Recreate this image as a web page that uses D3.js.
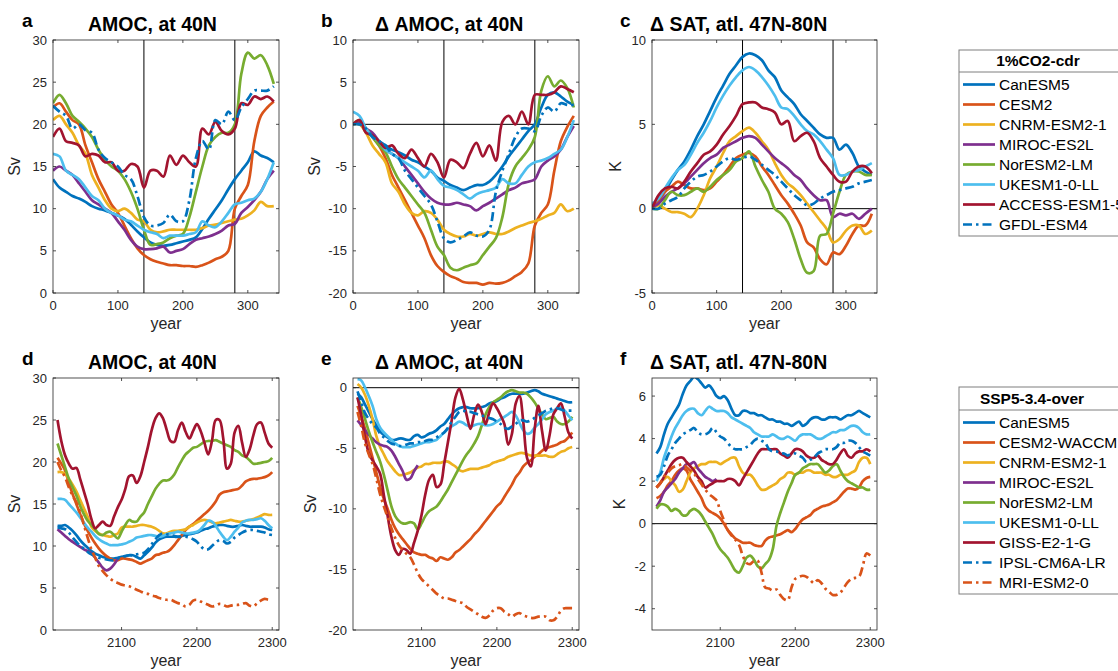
<!DOCTYPE html>
<html>
<head>
<meta charset="utf-8">
<script src="https://cdn.jsdelivr.net/npm/d3@7"></script>
<style>
  body { margin: 0; background: #fff; }
  svg { font-family: "Liberation Sans", Arial, Helvetica, sans-serif; }
</style>
</head>
<body>
<svg id="chart" width="1118" height="671"></svg>
<script>
// ---- data: 1%CO2-cdr runs (year since start) ----
var yearsCdr = [0,10,20,30,40,50,60,70,80,90,100,110,120,130,140,150,160,170,180,190,200,210,220,230,240,250,260,270,280,290,300,310,320,330,340];

// model order: CanESM5, CESM2, CNRM-ESM2-1, MIROC-ES2L, NorESM2-LM, UKESM1-0-LL, ACCESS-ESM1-5, GFDL-ESM4
var amocCdr = [
  [13.5,12.5,12,11.5,11.2,10.8,10.3,10,9.8,9.5,9.2,8.8,8.1,7.3,6.6,6,5.7,5.6,5.7,5.9,6.1,6.3,6.6,7.6,8.8,9.9,11,12.3,13.5,14.5,15.5,16.8,16.3,16,15.5],
  [22,22.5,21.5,20.5,20,17.5,15.5,13.5,12,10.5,9.5,8,6.5,5.3,4.5,4,3.7,3.5,3.3,3.3,3.2,3.2,3.1,3.3,3.6,4,4.3,5,10,11.5,12.8,18,21,22,22.7],
  [20.5,21,20,19,17.5,16.5,14,12.5,11,10,9.7,10,9.5,8.7,8.5,7.5,7.2,7.3,7.5,7.5,7.5,7.5,7.5,7.7,8,8.1,8.3,8.5,8.7,8.8,9.2,9.8,10.8,10.3,10.3],
  [14.5,15,14.5,14,13,12,11,10.5,10,9.5,8.5,7.5,6.3,5.5,5.2,5.2,5.3,5.5,4.8,5,5.2,5.8,6.3,6.5,6.7,7,7.4,8,8.2,9.5,10.2,11,12,13.5,14.5],
  [22.5,23.5,22.5,21,20.3,19.5,18.5,17,15.8,15,14.5,13.5,12,10,7.5,5.7,5.8,6,6.5,6.8,7,9,12,15,17.5,18.5,19,19,20,26,28.5,27.8,28.2,27,24.8],
  [16.5,16.2,14.5,14,13.5,12.5,11.5,11,10,9.5,9.2,8.7,8.5,8,7.5,7.2,7,6.5,6.8,6.8,6.8,7,7.2,8.5,8,7.8,8.5,9.5,10.5,10.7,11,11.2,12,13.5,15.5],
  [18.5,19.5,18,17.8,17.5,16.2,16.5,16.3,15.5,15.5,14.5,14.5,15.3,15,12.5,14.5,14.5,13.8,16.3,15.2,16.3,15.5,15,19.5,18.8,20.3,19.2,18.8,19.5,22.5,22.3,23.3,23,23.3,22.7],
  [22.2,21.5,21,19.5,20,19.3,19,17,16,15.5,15,14,13.5,11.5,9,8,8,8.3,9.3,8.5,8.5,11,16,18,17,20.5,20,21.5,20.5,22,23,24,24,24,24.5]
];

var dAmocCdr = [
  [0,0,-0.5,-1.5,-2,-2.5,-3,-3.3,-3.7,-4.2,-4.5,-5,-5.5,-6.3,-6.7,-7.2,-7.5,-7.8,-7.5,-7.2,-7.2,-6.8,-6,-5,-3.8,-2.8,-1.8,-0.8,0,2,3.5,3.8,3.3,2.7,2.3],
  [0,0.3,-0.5,-1.5,-2.5,-4,-6,-7.5,-9,-10.5,-12,-13.5,-15.5,-16.8,-17.5,-18,-18.3,-18.7,-18.8,-18.8,-19,-18.8,-18.9,-18.8,-18.5,-18,-17.5,-16.5,-12,-10.5,-9.5,-5.5,-2,-0.3,1],
  [0,0,-1,-2.5,-3.5,-4.5,-7,-8,-9.5,-10.5,-10.8,-10.3,-10.5,-11.3,-12.5,-13,-13.3,-13.3,-13,-13.2,-13,-12.8,-13,-13,-12.7,-12.3,-12,-11.7,-11.5,-11.2,-10.8,-10.5,-9.5,-10.3,-10],
  [0,0.3,-0.5,-1,-2,-3,-3.5,-4,-5,-6,-7,-8,-8.8,-9.3,-9.5,-9.5,-9.3,-9.5,-9.7,-10.2,-9.7,-9.3,-8.8,-8.3,-7.8,-7.5,-7,-6.8,-6.5,-5,-4.3,-3.8,-3,-1.5,-0.2],
  [0,0.5,-0.5,-1.5,-2.5,-3.3,-5,-6.5,-7.5,-8.5,-9.5,-10.5,-12.5,-14.5,-15.5,-17,-17.3,-17,-16.7,-16.5,-15.5,-14.5,-13.5,-11,-7,-5,-4,-3,-1.5,4,5.7,4.5,5.2,4.3,2],
  [1.5,1,-0.5,-1.5,-2,-3,-3.5,-4,-4.5,-5,-5.5,-6.3,-5.5,-6.5,-7.3,-7.5,-7.8,-8.3,-8.8,-8.3,-8,-7.8,-7.5,-6.5,-7,-7,-6,-5,-4.5,-4.3,-4,-3.5,-3,-1.5,0.5],
  [0,0.5,-1,-1.3,-2,-2.8,-2.5,-3.5,-4,-3,-4,-5,-3.5,-4.5,-6.3,-4.2,-4.5,-5.2,-3.5,-2.2,-3.8,-2.5,-4.3,0.3,1,0,1.5,0,3.5,3.5,3.5,3.8,4.5,4.2,3.8],
  [0,0,-0.5,-1.5,-2,-2.5,-3.5,-4,-5.5,-6.5,-7.5,-8.5,-9.5,-11.5,-13.5,-14,-13.7,-13.3,-12.8,-13.2,-13.3,-12.5,-8,-5.5,-3.5,-1.5,-0.5,-0.5,-0.8,1,2,1.5,2.5,2.3,2.3]
];

var dSatCdr = [
  [0.2,0.5,1,1.7,2.3,2.8,3.5,4.3,5,5.8,6.6,7.3,8,8.5,9,9.2,9.1,8.8,8.2,7.8,7,6.6,6.2,5.6,5.2,4.8,4.4,4.2,4.2,3.5,3.8,3.3,2.5,2.2,2],
  [0.1,0.5,1,1.3,1.6,1.4,1.2,1.2,1.1,1.2,1.6,2,2.5,3,3.2,3.3,3.1,2.5,2,1.4,0.8,0.3,-0.3,-1,-2,-2.3,-3,-3.3,-2.6,-2.7,-2.2,-1.5,-1,-1,-0.3],
  [0,0.2,0,-0.2,-0.2,-0.3,-0.5,0,0.8,1.8,2.5,3.3,4,4.3,4.6,4.8,4.5,4,3.5,2.7,2,1.5,1.2,0.8,0.3,-0.2,-0.7,-1.2,-2,-1.8,-1.3,-1,-1,-1.5,-1.3],
  [0.1,0.3,0.7,1,1.2,1.5,1.9,2.3,2.7,3,3.2,3.6,3.8,4,4.2,4.3,4.2,3.8,3.4,3,2.7,2.4,2,1.7,1.2,0.8,0.5,0.5,-0.5,-0.3,-0.4,-0.3,-0.6,-0.3,0],
  [0,0,0.5,1,0.8,0.8,1,1.2,1,1.3,1.7,2,2.3,2.8,3,3.4,2.5,1.7,1,0,-0.3,-0.8,-1.8,-3,-3.8,-3.7,-1.6,-1.5,-0.3,1,2,2.2,2.2,2,2],
  [0.3,0.6,1.2,1.8,2.3,2.6,3.2,3.9,4.5,5.2,6,6.7,7.3,7.8,8.2,8.4,8.2,7.8,7.3,6.7,6,5.9,5.5,5,4.6,4.4,4,3.5,3,2,2,2.2,2.3,2.5,2.7],
  [0,0.8,1.2,1.3,1.2,1.6,2.2,2.7,3.2,3.4,3.8,4.4,4.9,5.5,6.2,6.3,6.3,6,5.9,5.7,5,5.2,4,4.3,4.5,4,3,2.5,2,1.6,1.6,2.2,2.5,2.5,2.1],
  [0,0,0.3,0.5,0.7,1.2,1.6,1.9,2,2.2,2.5,2.8,3,2.9,3,3.1,2.9,2.6,2.3,2,1.6,1.2,0.8,0.5,0.2,0.3,0.6,0.8,1,1.1,1.2,1.3,1.5,1.6,1.7]
];

// ---- data: SSP5-3.4-over runs ----
var yearsSsp = [2015,2020,2025,2030,2035,2040,2045,2050,2055,2060,2065,2070,2075,2080,2085,2090,2095,2100,2105,2110,2115,2120,2125,2130,2135,2140,2145,2150,2155,2160,2165,2170,2175,2180,2185,2190,2195,2200,2205,2210,2215,2220,2225,2230,2235,2240,2245,2250,2255,2260,2265,2270,2275,2280,2285,2290,2295,2300];

// model order: CanESM5, CESM2-WACCM, CNRM-ESM2-1, MIROC-ES2L, NorESM2-LM, UKESM1-0-LL, GISS-E2-1-G, IPSL-CM6A-LR, MRI-ESM2-0
var amocSsp = [
  [12.4,12.4,12.5,12.2,11.8,11.3,10.7,10.2,9.8,9.4, 9.1,8.9,8.7,8.6,8.5,8.5,8.6,8.7,8.8,8.9, 8.9,8.7,8.5,8.9,9.3,9.8,10.4,10.8,11,11.1, 11.1,11.1,11.1,11.2,11.3,11.4,11.5,11.6,11.8,12, 12.1,12.3,12.4,12.5,12.5,12.4,12.3,12.3,12.4,12.5, 12.4,12.3,12.3,12.3,12.3,12.2,12,11.9],
  [20.5,19.8,19,17.5,16.2,15,13.8,12.7,11.8,11, 10.3,9.7,9.2,8.8,8.5,8.3,8.3,8.5,8.5,8.4, 8.3,8.1,7.9,8.1,8.3,8.5,8.9,9,9.2,9.3, 9.6,10.1,10.7,11.3,11.9,12.3,12.6,13,13.4,13.8, 14.2,14.7,15.3,16.1,16.4,16.5,16.6,16.7,16.8,17.2, 17.7,17.9,18,18,18.1,18.2,18.4,18.8],
  [18.8,18.8,18.6,18,17.3,16.5,15.5,14.5,13.5,12.3, 11.8,11.5,11.3,11.2,11.1,11.3,11.5,12.2,12.3,12.3, 12.3,12.4,12.5,12.5,12.4,12.3,12.1,11.8,11.5,11.5, 11.7,11.8,11.8,11.9,12,12.3,12.5,12.8,13,13.1, 13,12.8,12.7,12.8,12.9,13,13.1,13,12.9,12.9, 13,13.1,13.2,13.4,13.6,13.8,13.7,13.7],
  [12,11.6,11.2,10.8,10.5,10.2,9.9,9.6,9.4,9.1, 8.6,8,7.4,7.1,7.3,7.8,8.5],
  [22.2,20.8,19.4,18,17,16,14.8,13.8,13,12.5, 12,11.4,11.3,11.6,11.7,11.3,10.9,11.7,12.5,13.1, 12.9,12.9,13.5,14,15,15.9,16.8,17.4,17.8,17.8, 18,18.5,19.4,20.2,20.9,21.3,21.7,21.8,22.1,22.4, 22.5,22.5,22.6,22.4,22.2,22,21.8,21.4,21.2,20.8, 20.6,20.2,19.8,19.8,19.9,20,20.1,20.5],
  [15.6,15.6,15.5,15,14.5,14,13.4,12.8,12.2,11.7, 11.2,10.8,10.5,10.3,10.1,10.1,10.1,10.2,10.3,10.5, 10.7,11,11.1,11.2,11.3,11.3,11.2,11.1,11.2,11.4, 11.5,11.6,11.7,11.6,11.5,11.5,11.6,11.7,12,12.5, 13,12.9,12.4,11.7,11.1,10.7,11.1,11.7,12.2,12.8, 13,13.1,13.1,13.2,13.3,13,12.5,12.1],
  [25,22.5,20.8,19.8,19.2,19.3,18,16.5,15,13.2, 12.1,12.5,12.9,12.5,12.4,13.5,14.6,15.5,16.8,18.3, 18.4,17.5,18.3,20,21.8,23.8,25.2,25.8,25.2,23.8, 22.5,22.4,23.8,24.7,23.6,22.8,23.7,24.5,23.7,22.3, 20.9,22.5,25,25,22.8,19.2,19.8,23.5,24.3,22.3, 20.6,21.5,23.2,24.5,24.7,23.5,22.2,21.7],
  [12.2,12.1,12,11.6,11,10.5,10,9.7,9.3,9, 8.8,8.6,8.5,8.4,8.3,8.3,8.5,8.7,8.8,8.9, 8.9,9,9.1,9.2,9.6,10.2,10.8,11.3,11.5,11.4, 11.3,11.2,11.1,11.1,11.1,11,10.8,10.5,10,9.6, 9.6,10,10.4,10.7,10.6,10.3,10.5,11,11.3,11.6, 11.8,11.9,11.9,11.8,11.7,11.6,11.4,11.3],
  [20,19,18.2,17,16,15.2,14,12.5,11,9.6, 8.6,7.6,7,6.5,6.1,5.8,5.6,5.4,5.3,5.2, 5,4.8,4.6,4.4,4.3,4.1,4,3.8,3.7,3.6, 3.6,3.4,3.2,3.1,2.8,3,3.5,3.6,3.4,3.2, 3,2.8,2.9,3.1,3,2.8,2.9,3,3,3.1, 3.2,2.9,2.8,3.2,3.5,3.7,3.6,3.6]
];

var dAmocSsp = [
  [-0.5,-0.8,-1.4,-2,-2.6,-3.1,-3.6,-3.9,-4.1,-4.3, -4.3,-4.2,-4.2,-4.3,-4.3,-4,-3.9,-4.1,-4,-3.8, -3.7,-3.5,-3.2,-3,-2.6,-2.2,-1.9,-1.7,-1.6,-1.6, -1.7,-1.7,-1.7,-1.6,-1.5,-1.3,-1.2,-1.1,-0.9,-0.8, -0.6,-0.5,-0.5,-0.5,-0.5,-0.4,-0.3,-0.2,-0.3,-0.5, -0.6,-0.7,-0.8,-0.9,-1,-1.1,-1.2,-1.2],
  [-1.5,-2.4,-3.4,-4.6,-5.8,-7,-8.2,-9.2,-10,-10.9, -11.6,-12.1,-12.5,-12.9,-13.3,-13.6,-13.7,-13.8,-13.8,-14, -14.1,-14.3,-14,-14.1,-14.2,-14,-13.6,-13.4,-13.1,-12.8, -12.5,-12.1,-11.8,-11.4,-11,-10.6,-10.2,-9.8,-9.5,-9, -8.5,-8,-7.4,-7,-6.5,-6.2,-6,-5.7,-5.5,-5.2, -5,-4.9,-4.8,-4.7,-4.5,-4.4,-4.1,-3.7],
  [0.3,0,-0.6,-1.5,-2.6,-4,-4.9,-5.5,-6.1,-6.5, -6.9,-7.2,-7.2,-7.1,-7,-6.8,-6.6,-6.5,-6.3,-6.3, -6.2,-6.2,-6.2,-6.1,-6.1,-6.3,-6.5,-6.8,-6.9,-6.8, -6.7,-6.7,-6.7,-6.6,-6.5,-6.4,-6.2,-6.1,-6,-5.9, -5.7,-5.6,-5.5,-5.4,-5.4,-5.5,-5.6,-5.6,-5.6,-5.6, -5.6,-5.7,-5.7,-5.5,-5.3,-5.2,-5,-4.9],
  [-2.7,-3.1,-3.5,-3.9,-4.2,-4.5,-4.7,-4.8,-4.9,-5.2, -5.7,-6.3,-6.9,-7.6,-7.5,-6.9,-6.4],
  [-0.8,-1.6,-2.6,-3.6,-4.5,-5.3,-6.1,-7.2,-8.5,-9.8, -10.6,-11,-11.2,-11.2,-11.1,-11.2,-11.7,-11.2,-10.6,-10.2, -10,-9.8,-9.4,-8.9,-8.4,-7.8,-7.2,-6.6,-6,-5.5, -5.1,-4.6,-4,-3.1,-2.2,-1.6,-1.2,-1,-0.8,-0.5, -0.3,-0.2,-0.3,-0.4,-0.4,-0.5,-0.8,-1.2,-1.7,-2.2, -2.6,-2.5,-2.4,-2.8,-3,-3,-2.8,-2.4],
  [0.7,0.6,0,-0.7,-1.5,-2.6,-3.3,-3.7,-4,-4.3, -4.6,-4.8,-4.9,-4.9,-4.9,-4.8,-4.7,-4.6,-4.5,-4.5, -4.4,-4.3,-4,-3.7,-3.4,-3.2,-3,-2.8,-2.9,-3.1, -3.2,-3.1,-3,-3,-3.1,-3.1,-3,-2.8,-2.6,-2.4, -2.2,-2,-2.3,-2.9,-3.5,-3.8,-3.7,-3.3,-3,-2.6, -2.2,-2,-1.9,-1.7,-1.6,-1.9,-2.3,-2.7],
  [-0.8,-2.3,-4.1,-5.4,-6,-6.5,-7.1,-8.9,-10.6,-12.3, -13.4,-13.8,-13.3,-13.4,-13.7,-12.8,-11.8,-10.5,-8.8,-7.6, -7.2,-8.2,-8,-6.3,-4.5,-2.7,-0.8,-0.1,-1,-2.3, -3.4,-2.2,-1.4,-2,-3,-2,-1.3,-1.7,-2.3,-3, -4.7,-3.8,-1.3,-0.7,-2.8,-5.8,-6.5,-3.5,-1.5,-3.6, -5.2,-3.9,-2.2,-1.7,-1.3,-2.4,-3.7,-4.2],
  [-0.3,-1.2,-2.1,-2.6,-3,-3.3,-3.8,-4.1,-4.4,-4.6, -4.7,-4.8,-4.8,-4.7,-4.6,-4.6,-4.5,-4.5,-4.4,-4.3, -4.3,-4.1,-3.9,-3.7,-3.3,-2.8,-2.4,-2,-1.9,-2, -2,-2.1,-2.2,-2.3,-2.4,-2.5,-2.6,-2.8,-3,-3.3, -3.4,-3.2,-3,-2.7,-2.7,-2.8,-2.7,-2.5,-2.3,-2.1, -1.9,-1.8,-1.7,-1.7,-1.8,-1.9,-1.9,-1.9],
  [-2,-3.2,-4.6,-5.5,-6.3,-7.5,-8.8,-9.8,-10.7,-11.6, -12.4,-13,-13.4,-13.7,-14,-14.6,-15.3,-15.8,-16.1,-16.4, -16.7,-17,-17.2,-17.4,-17.4,-17.5,-17.6,-17.7,-17.8,-18.1, -18.3,-18.5,-18.7,-18.9,-19,-18.8,-18.4,-18.2,-18.2,-18.5, -18.7,-18.9,-18.7,-18.6,-18.8,-18.9,-19,-19,-18.9,-18.9, -18.9,-19.2,-19.2,-18.9,-18.4,-18.2,-18.2,-18.2]
];

var dSatSsp = [
  [3.3,3.6,4.2,4.7,5,5.3,5.6,6.1,6.5,6.7, 6.9,6.8,6.6,6.4,6.5,6.3,6,5.9,6,5.8, 5.4,5.1,5.1,5.3,5.3,5.2,5.2,5.1,5.1,5, 4.9,4.9,4.8,4.8,4.7,4.7,4.6,4.7,4.8,4.6, 4.7,4.9,5,5,4.9,4.9,5,5,5,4.9, 5,5.1,5.1,5.2,5.3,5.2,5.1,5],
  [1.2,1.3,1.5,1.8,2,2.3,2.5,2.6,2.5,2.1, 1.8,1.5,1.2,0.8,0.6,0.5,0.4,0.25,0,-0.3, -0.5,-0.7,-0.8,-0.9,-0.9,-0.9,-1,-1.05,-1.05,-0.8, -0.65,-0.6,-0.55,-0.5,-0.4,-0.3,-0.4,-0.25,0,0.2, 0.3,0.4,0.6,0.7,0.8,0.85,0.9,1,1.1,1.3, 1.5,1.65,1.65,1.6,1.7,2,2.15,2.2],
  [1.7,1.9,2.1,2.2,2,1.8,1.5,1.6,2,2.4, 2.6,2.7,2.8,2.8,2.9,2.9,2.9,2.8,2.9,3, 3.1,3.1,2.7,2.4,2.3,2.3,2.1,1.8,1.6,1.6, 1.7,1.8,1.9,2.1,2.2,2.4,2.4,2.3,2.4,2.4, 2.5,2.5,2.4,2.4,2.4,2.3,2.3,2.2,2.2,2.3, 2.3,2.3,2.4,2.5,2.9,3.1,3.1,2.8],
  [0.8,1.1,1.5,1.7,1.9,2.1,2.4,2.6,2.8,2.8, 2.9,2.6,2.4,2.2,2.1,2,2.1],
  [0.7,0.9,0.9,0.8,0.6,0.7,0.6,0.4,0.4,0.6, 0.7,0.6,0.4,0.1,-0.2,-0.5,-0.9,-1.2,-1.4,-1.6, -1.9,-2.2,-2.3,-2,-1.6,-1.5,-1.7,-2,-2.1,-1.9, -1.7,-1.2,-0.1,0.5,1,1.5,1.9,2.3,2.4,2.6, 2.7,2.8,2.8,2.8,2.6,2.4,2.5,2.7,2.8,2.5, 2.2,2,1.9,1.8,1.7,1.7,1.6,1.6],
  [2,2.4,3.1,3.6,4.1,4.5,4.8,5.1,5.3,5.4, 5.4,5.2,5.1,5.3,5.5,5.4,5.3,5.3,5.3,5.2, 5,4.9,4.8,4.7,4.6,4.5,4.3,4.2,4.1,4.1, 4.1,4.2,4.1,4,4,4.1,4,3.9,4.1,4.2, 4.2,4.2,4.1,4,4,4.1,4.2,4.3,4.3,4.4, 4.4,4.5,4.6,4.6,4.5,4.3,4.2,4.2],
  [1.7,1.9,2.2,2.5,2.8,3,3.1,3.1,2.9,2.7, 2.5,2.2,2,1.7,1.8,1.9,2,2,2,2.1, 2.1,2,1.8,2.1,2.4,2.7,3,3.3,3.5,3.5, 3.5,3.5,3.5,3.3,3.2,3.1,3.3,3.5,3.5,3.4, 3.2,3.1,3.1,3.2,3,2.9,2.8,2.8,3,3.3, 3.5,3.2,3.1,3.3,3.4,3.4,3.5,3.4],
  [2.2,2.3,2.7,3.2,3.5,3.8,4,4.2,4.3,4.4, 4.5,4.3,4.2,4.2,4.3,4.5,4.3,4.1,4,3.8, 3.6,3.5,3.5,3.5,3.6,3.7,3.9,4,3.9,3.8, 3.5,3.4,3.4,3.3,3.3,3.2,3.3,3.3,3.2,3.1, 2.9,3,3.1,3.3,3.4,3.5,3.5,3.5,3.6,3.8, 3.8,3.9,3.9,3.8,3.6,3.4,3.3,3.2],
  [1.7,1.9,2.2,2.4,2.6,2.7,2.75,2.8,2.65,2.5, 2.35,2.1,1.85,1.6,1.4,1.25,1.1,0.6,0.15,-0.3, -0.55,-0.75,-1,-1.5,-1.85,-1.9,-1.75,-1.75,-2.3,-3, -3.05,-3.15,-3.1,-3.35,-3.55,-3.6,-3,-2.6,-2.5,-2.45, -2.5,-2.65,-2.8,-2.65,-2.8,-3.05,-3.2,-3.35,-3.35,-3.25, -3,-2.75,-2.6,-2.55,-2.5,-2,-1.4,-1.5]
];

var cdrNames = ['CanESM5','CESM2','CNRM-ESM2-1','MIROC-ES2L','NorESM2-LM','UKESM1-0-LL','ACCESS-ESM1-5','GFDL-ESM4'];
var sspNames = ['CanESM5','CESM2-WACCM','CNRM-ESM2-1','MIROC-ES2L','NorESM2-LM','UKESM1-0-LL','GISS-E2-1-G','IPSL-CM6A-LR','MRI-ESM2-0'];

// ---- styles ----
var blue = '#0072BD', orange = '#D95319', yellow = '#EDB120', purple = '#7E2F8E',
  green = '#77AC30', cyan = '#4DBEEE', wine = '#A2142F';
var dashDot = '9,4,2.5,4';
var cdrColors = [blue, orange, yellow, purple, green, cyan, wine, blue];
var cdrDash = [null, null, null, null, null, null, null, dashDot];
var sspColors = [blue, orange, yellow, purple, green, cyan, wine, blue, orange];
var sspDash = [null, null, null, null, null, null, null, dashDot, dashDot];

var axisColor = '#262626';
var svg = d3.select('#chart');
var clipId = 0;

function drawPanel(p) {
  var x = d3.scaleLinear().domain(p.xDomain).range([p.left, p.left + p.width]);
  var y = d3.scaleLinear().domain(p.yDomain).range([p.top + p.height, p.top]);
  var g = svg.append('g');

  // clip
  var id = 'clip' + (clipId++);
  svg.append('clipPath').attr('id', id).append('rect')
    .attr('x', p.left).attr('y', p.top).attr('width', p.width).attr('height', p.height);

  var plot = g.append('g').attr('clip-path', 'url(#' + id + ')');

  // reference lines
  if (p.zero) {
    plot.append('line')
      .attr('x1', p.left).attr('x2', p.left + p.width)
      .attr('y1', y(0)).attr('y2', y(0))
      .attr('stroke', '#000').attr('stroke-width', 1);
  }
  (p.vlines || []).forEach(function(v) {
    plot.append('line')
      .attr('x1', x(v)).attr('x2', x(v))
      .attr('y1', p.top).attr('y2', p.top + p.height)
      .attr('stroke', '#000').attr('stroke-width', 1);
  });

  var line = d3.line()
    .x(function(d) { return x(d[0]); })
    .y(function(d) { return y(d[1]); })
    .curve(d3.curveCatmullRom.alpha(0.5));

  p.series.forEach(function(vals, i) {
    var pts = vals.map(function(v, j) { return [p.years[j], v]; });
    plot.append('path')
      .attr('d', line(pts))
      .attr('fill', 'none')
      .attr('stroke', p.colors[i])
      .attr('stroke-width', 2.7)
      .attr('stroke-linejoin', 'round')
      .attr('stroke-dasharray', p.dashes[i]);
  });

  // box + inward ticks on all sides (matlab look)
  g.append('rect')
    .attr('x', p.left).attr('y', p.top).attr('width', p.width).attr('height', p.height)
    .attr('fill', 'none').attr('stroke', axisColor).attr('stroke-width', 0.8);

  var tl = 3;
  p.xTicks.forEach(function(t) {
    g.append('line').attr('x1', x(t)).attr('x2', x(t))
      .attr('y1', p.top + p.height).attr('y2', p.top + p.height - tl)
      .attr('stroke', axisColor).attr('stroke-width', 0.8);
    g.append('line').attr('x1', x(t)).attr('x2', x(t))
      .attr('y1', p.top).attr('y2', p.top + tl)
      .attr('stroke', axisColor).attr('stroke-width', 0.8);
    g.append('text').attr('x', x(t)).attr('y', p.top + p.height + 17)
      .attr('text-anchor', 'middle').attr('font-size', 13).attr('fill', axisColor)
      .text(t);
  });
  p.yTicks.forEach(function(t) {
    g.append('line').attr('x1', p.left).attr('x2', p.left + tl)
      .attr('y1', y(t)).attr('y2', y(t))
      .attr('stroke', axisColor).attr('stroke-width', 0.8);
    g.append('line').attr('x1', p.left + p.width).attr('x2', p.left + p.width - tl)
      .attr('y1', y(t)).attr('y2', y(t))
      .attr('stroke', axisColor).attr('stroke-width', 0.8);
    g.append('text').attr('x', p.left - 6).attr('y', y(t) + 4.5)
      .attr('text-anchor', 'end').attr('font-size', 13).attr('fill', axisColor)
      .text(t);
  });

  // labels
  g.append('text').attr('x', p.left + p.width / 2).attr('y', p.top + p.height + 36)
    .attr('text-anchor', 'middle').attr('font-size', 16).attr('fill', axisColor)
    .text('year');
  g.append('text')
    .attr('transform', 'translate(' + p.ylabelX + ',' + (p.top + p.height / 2) + ') rotate(-90)')
    .attr('text-anchor', 'middle').attr('font-size', 16).attr('fill', axisColor)
    .text(p.ylabel);
  g.append('text').attr('x', p.titleX).attr('y', p.top - 9.5)
    .attr('font-size', 19.5).attr('font-weight', 'bold').attr('fill', '#000')
    .text(p.title);
  g.append('text').attr('x', p.letterX).attr('y', p.top - 13)
    .attr('font-size', 19).attr('font-weight', 'bold').attr('fill', '#000')
    .text(p.letter);
}

function drawLegend(l) {
  var g = svg.append('g');
  var h = l.headerH + l.names.length * 20 + 4;
  g.append('rect').attr('x', l.x).attr('y', l.y).attr('width', 200).attr('height', h)
    .attr('fill', '#fff').attr('stroke', '#7f7f7f').attr('stroke-width', 1);
  g.append('line').attr('x1', l.x).attr('x2', l.x + 200)
    .attr('y1', l.y + l.headerH).attr('y2', l.y + l.headerH)
    .attr('stroke', '#7f7f7f').attr('stroke-width', 1);
  g.append('text').attr('x', l.titleX).attr('y', l.y + l.headerH - 6)
    .attr('text-anchor', 'middle').attr('font-size', 15.5).attr('font-weight', 'bold')
    .text(l.title);
  l.names.forEach(function(n, i) {
    var cy = l.y + l.headerH + 12.5 + i * 20;
    g.append('line').attr('x1', l.x + 4).attr('x2', l.x + 36)
      .attr('y1', cy).attr('y2', cy)
      .attr('stroke', l.colors[i]).attr('stroke-width', 2.7)
      .attr('stroke-dasharray', l.dashes[i]);
    g.append('text').attr('x', l.x + 40).attr('y', cy + 5.5)
      .attr('font-size', 15.5).attr('fill', '#000').text(n);
  });
}

var topRow = { top: 40, height: 253, xDomain: [0, 348], xTicks: [0, 100, 200, 300], years: yearsCdr, colors: cdrColors, dashes: cdrDash, vlines: [140, 280] };
var botRow = { top: 378, height: 252, xDomain: [2009, 2309], xTicks: [2100, 2200, 2300], years: yearsSsp, colors: sspColors, dashes: sspDash, vlines: [] };

drawPanel(Object.assign({}, topRow, { left: 53, width: 226, yDomain: [0, 30], yTicks: [0, 5, 10, 15, 20, 25, 30],
  series: amocCdr, title: 'AMOC, at 40N', titleX: 88, letter: 'a', letterX: 22, ylabel: 'Sv', ylabelX: 20, zero: false }));
drawPanel(Object.assign({}, topRow, { left: 353, width: 226, yDomain: [-20, 10], yTicks: [-20, -15, -10, -5, 0, 5, 10],
  series: dAmocCdr, title: '\u0394 AMOC, at 40N', titleX: 375, letter: 'b', letterX: 321, ylabel: 'Sv', ylabelX: 320, zero: true }));
drawPanel(Object.assign({}, topRow, { left: 652, width: 225, yDomain: [-5, 10], yTicks: [-5, 0, 5, 10],
  series: dSatCdr, title: '\u0394 SAT, atl. 47N-80N', titleX: 650, letter: 'c', letterX: 620, ylabel: 'K', ylabelX: 621, zero: true }));

drawPanel(Object.assign({}, botRow, { left: 53, width: 226, yDomain: [0, 30], yTicks: [0, 5, 10, 15, 20, 25, 30],
  series: amocSsp, title: 'AMOC, at 40N', titleX: 88, letter: 'd', letterX: 22, ylabel: 'Sv', ylabelX: 20, zero: false }));
drawPanel(Object.assign({}, botRow, { left: 353, width: 226, yDomain: [-20, 0.8], yTicks: [-20, -15, -10, -5, 0],
  series: dAmocSsp, title: '\u0394 AMOC, at 40N', titleX: 375, letter: 'e', letterX: 321, ylabel: 'Sv', ylabelX: 316, zero: true }));
drawPanel(Object.assign({}, botRow, { left: 652, width: 225, yDomain: [-5, 6.85], yTicks: [-4, -2, 0, 2, 4, 6],
  series: dSatSsp, title: '\u0394 SAT, atl. 47N-80N', titleX: 650, letter: 'f', letterX: 620, ylabel: 'K', ylabelX: 625, zero: true }));

drawLegend({ x: 959, y: 50, headerH: 22, title: '1%CO2-cdr', titleX: 1038, names: cdrNames, colors: cdrColors, dashes: cdrDash });
drawLegend({ x: 959, y: 387, headerH: 23, title: 'SSP5-3.4-over', titleX: 1032, names: sspNames, colors: sspColors, dashes: sspDash });
</script>
</body>
</html>
